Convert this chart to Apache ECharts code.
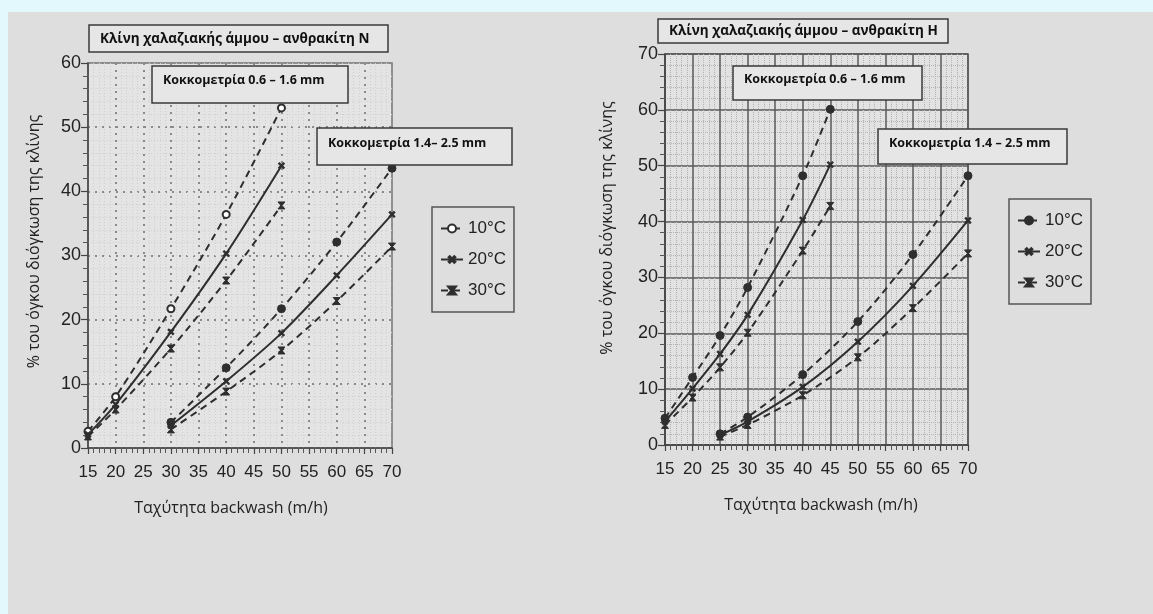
<!DOCTYPE html>
<html>
<head>
<meta charset="utf-8">
<title>Διόγκωση κλίνης</title>
<script src="https://cdn.jsdelivr.net/npm/echarts@6/dist/echarts.min.js"></script>
<style>
  html, body { margin: 0; padding: 0; background: #e2f8fd; }
  #chart { width: 1153px; height: 614px; }
</style>
</head>
<body>
<div id="chart"></div>
<script>
// ---- data: N anthracite (left) ----
var xLeftA = [15, 20, 30, 40, 50];
var leftA10 = [2.6, 8, 21.7, 36.4, 53];
var leftA20 = [2.1, 6.8, 18.1, 30.3, 44];
var leftA30 = [1.8, 6, 15.5, 26.1, 37.8];
var xLeftB = [30, 40, 50, 60, 70];
var leftB10 = [4, 12.5, 21.7, 32.1, 43.6];
var leftB20 = [3.5, 10.4, 17.9, 26.9, 36.4];
var leftB30 = [2.9, 8.8, 15.2, 22.9, 31.4];

// ---- data: H anthracite (right) ----
var xRightA = [15, 20, 25, 30, 40, 45];
var rightA10 = [4.8, 12.1, 19.6, 28.2, 48.2, 60.1];
var rightA20 = [4.2, 10.1, 16.3, 23.3, 40.3, 50.2];
var rightA30 = [3.6, 8.5, 13.9, 20.1, 34.8, 42.8];
var xRightB = [25, 30, 40, 50, 60, 70];
var rightB10 = [2, 5, 12.6, 22.1, 34.1, 48.2];
var rightB20 = [1.8, 4.2, 10.4, 18.5, 28.5, 40.2];
var rightB30 = [1.5, 3.6, 8.9, 15.7, 24.5, 34.3];

var tempNames = ['10°C', '20°C', '30°C'];
var xTicks = { min: 15, max: 70, interval: 5 };

var chart = echarts.init(document.getElementById('chart'));

var INK = '#2e2e2e';
var CROSS = 'path://M4,0h2v4h4v2h-4v4h-2v-4h-4v-2h4z';
var HOUR = 'path://M0,0L10,0L5.8,5L10,10L0,10L4.2,5Z';

function pairs(xs, ys) {
  return xs.map(function (x, i) { return [x, ys[i]]; });
}

function line(name, xs, ys, gi, symbol, dashed, size, rotate) {
  return {
    name: name,
    type: 'line',
    xAxisIndex: gi,
    yAxisIndex: gi,
    data: pairs(xs, ys),
    smooth: 0.3,
    symbol: symbol,
    symbolSize: size,
    symbolRotate: rotate || 0,
    itemStyle: { color: INK, borderColor: INK, borderWidth: 1 },
    lineStyle: { color: INK, width: 2, type: dashed ? [7, 5] : 'solid' },
    emphasis: { disabled: true }
  };
}

function xAxisFor(gi, nameShift, majorStyle, minorStyle) {
  return {
    type: 'value', gridIndex: gi,
    min: xTicks.min, max: xTicks.max, interval: xTicks.interval,
    name: 'Ταχύτητα backwash (m/h)',
    nameLocation: 'middle', nameGap: 52,
    nameTextStyle: { fontFamily: 'Open Sans', fontSize: 16, color: '#222', padding: nameShift },
    axisLine: { lineStyle: { color: '#444', width: 1.5 } },
    axisTick: { length: 6, lineStyle: { color: '#444', width: 1.2 } },
    minorTick: { show: true, splitNumber: 5, length: 5, lineStyle: { color: '#555', width: 1 } },
    axisLabel: { fontFamily: 'Liberation Sans', fontSize: 17, color: '#222', margin: 16 },
    splitLine: { show: true, lineStyle: majorStyle },
    minorSplitLine: { show: true, lineStyle: minorStyle }
  };
}

function yAxisFor(gi, max, nameGap, nameShift, majorStyle, minorStyle) {
  return {
    type: 'value', gridIndex: gi,
    min: 0, max: max, interval: 10,
    name: '% του όγκου διόγκωση της κλίνης',
    nameLocation: 'middle', nameGap: nameGap,
    nameTextStyle: { fontFamily: 'Open Sans', fontSize: 16, color: '#222', padding: nameShift },
    axisLine: { show: true, lineStyle: { color: '#444', width: 1.5 } },
    axisTick: { show: true, length: 7, lineStyle: { color: '#444', width: 1.2 } },
    minorTick: { show: true, splitNumber: 5, length: 5, lineStyle: { color: '#555', width: 1 } },
    axisLabel: { fontFamily: 'Liberation Sans', fontSize: 18, color: '#222', margin: 7 },
    splitLine: { show: true, lineStyle: majorStyle },
    minorSplitLine: { show: true, lineStyle: minorStyle }
  };
}

function legendFor(left, top, prefix) {
  return {
    orient: 'vertical', left: left, top: top,
    data: tempNames.map(function (t) { return prefix + t; }),
    formatter: function (n) { return n.slice(2); },
    padding: [13, 8, 13, 8], itemGap: 14,
    itemWidth: 22, itemHeight: 10,
    borderColor: '#555', borderWidth: 1.5,
    selectedMode: false,
    textStyle: { fontFamily: 'Liberation Sans', fontSize: 17, color: '#222' }
  };
}

function box(x, y, w, h, text, textTop, fontSize) {
  return {
    type: 'group', z: 100,
    children: [
      { type: 'rect', shape: { x: x, y: y, width: w, height: h },
        style: { fill: '#e6e6e6', stroke: '#3a3a3a', lineWidth: 1.5 }, z: 100 },
      { type: 'text', x: x + 11, y: y + textTop, z: 101,
        style: { text: text, font: 'bold ' + fontSize + 'px "Open Sans"', fill: '#111', verticalAlign: 'middle' } }
    ]
  };
}

var dotMajor = { color: '#8a8a8a', width: 2, type: [2, 5] };
var dotMinor = { color: '#cfcfcf', width: 1, type: [1, 2] };
var solidMajor = { color: '#5a5a5a', width: 1.5, type: 'solid' };
var gridMinor = { color: '#b4b4b4', width: 1, type: [1, 1] };

var option = {
  backgroundColor: '#e2f8fd',
  animation: false,
  grid: [
    { left: 88, top: 63, width: 304, height: 385, show: true,
      backgroundColor: '#e4e4e4', borderColor: '#777', borderWidth: 1.5 },
    { left: 665, top: 54, width: 303, height: 391, show: true,
      backgroundColor: '#e2e2e2', borderColor: '#555', borderWidth: 1.5 }
  ],
  xAxis: [
    xAxisFor(0, [0, 18, 0, 0], dotMajor, dotMinor),
    xAxisFor(1, [0, 0, 0, 9], solidMajor, gridMinor)
  ],
  yAxis: [
    yAxisFor(0, 60, 46, [0, 0, 0, 28], dotMajor, dotMinor),
    yAxisFor(1, 70, 50, [0, 0, 0, 43], solidMajor, gridMinor)
  ],
  legend: [legendFor(432, 207, 'N '), legendFor(1009, 199, 'H ')],
  graphic: [
    { type: 'rect', z: -10, silent: true, shape: { x: 8, y: 12, width: 1145, height: 602 },
      style: { fill: '#dedede' } },
    box(89, 25, 299, 27, 'Κλίνη χαλαζιακής άμμου – ανθρακίτη N', 14, 13.5),
    box(152, 66, 196, 37, 'Κοκκομετρία 0.6 – 1.6 mm', 14, 12.5),
    box(317, 128, 195, 37, 'Κοκκομετρία 1.4– 2.5 mm', 15, 12.5),
    box(658, 19, 290, 24, 'Κλίνη χαλαζιακής άμμου – ανθρακίτη H', 12, 13.5),
    box(733, 66, 189, 34, 'Κοκκομετρία 0.6 – 1.6 mm', 13, 12.5),
    box(878, 129, 189, 35, 'Κοκκομετρία 1.4 – 2.5 mm', 14, 12.5)
  ],
  series: [
    line('N 10°C', xLeftA, leftA10, 0, 'emptyCircle', true, 7),
    line('N 20°C', xLeftA, leftA20, 0, CROSS, false, 7, 45),
    line('N 30°C', xLeftA, leftA30, 0, HOUR, true, 7),
    line('N 10°C', xLeftB, leftB10, 0, 'circle', true, 8),
    line('N 20°C', xLeftB, leftB20, 0, CROSS, false, 7, 45),
    line('N 30°C', xLeftB, leftB30, 0, HOUR, true, 7),
    line('H 10°C', xRightA, rightA10, 1, 'circle', true, 8),
    line('H 20°C', xRightA, rightA20, 1, CROSS, false, 7, 45),
    line('H 30°C', xRightA, rightA30, 1, HOUR, true, 7),
    line('H 10°C', xRightB, rightB10, 1, 'circle', true, 8),
    line('H 20°C', xRightB, rightB20, 1, CROSS, false, 7, 45),
    line('H 30°C', xRightB, rightB30, 1, HOUR, true, 7)
  ]
};

chart.setOption(option);
</script>
</body>
</html>
